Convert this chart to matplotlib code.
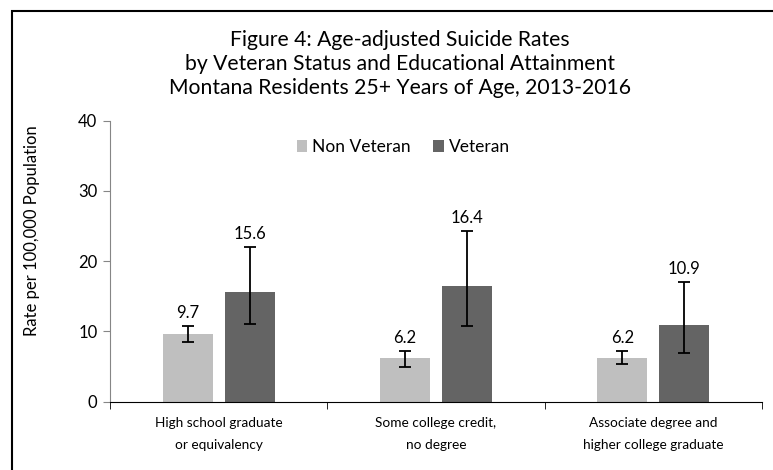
import matplotlib.pyplot as plt
import numpy as np
from matplotlib.patches import Rectangle

plt.rcParams['font.family'] = ['Lato', 'DejaVu Sans']

# Данные
categories = ["High school graduate\nor equivalency",
              "Some college credit,\nno degree",
              "Associate degree and\nhigher college graduate"]
non_veteran = [9.7, 6.2, 6.2]
non_veteran_lo = [8.5, 5.0, 5.3]
non_veteran_hi = [10.8, 7.2, 7.2]
veteran = [15.6, 16.4, 10.9]
veteran_lo = [11.1, 10.8, 6.9]
veteran_hi = [22.0, 24.3, 17.0]

c_light = '#BFBFBF'
c_dark = '#646464'

fig = plt.figure(figsize=(7.73, 4.70), dpi=100)

# Рамка вокруг графика (видны только верх и левый край), в пикселях
fig.add_artist(Rectangle((12, -20), 800, 470 - 11 + 20,
                         transform=None, fill=False, edgecolor='black',
                         linewidth=1.5, clip_on=False, zorder=10))

ax = fig.add_axes([0.1423, 0.1453, 0.8435, 0.5979])

x = np.arange(len(categories))
w = 0.23
off = 0.143

nv = np.array(non_veteran)
vt = np.array(veteran)
nv_err = [nv - np.array(non_veteran_lo), np.array(non_veteran_hi) - nv]
vt_err = [vt - np.array(veteran_lo), np.array(veteran_hi) - vt]

ax.bar(x - off, nv, w, color=c_light, label='Non Veteran', zorder=2)
ax.bar(x + off, vt, w, color=c_dark, label='Veteran', zorder=2)
ax.errorbar(x - off, nv, yerr=nv_err, fmt='none', ecolor='black',
            elinewidth=1.3, capsize=4, capthick=1.3, zorder=3)
ax.errorbar(x + off, vt, yerr=vt_err, fmt='none', ecolor='black',
            elinewidth=1.3, capsize=4, capthick=1.3, zorder=3)

# Подписи значений над планками погрешностей
for xi, v, hi in zip(x - off, non_veteran, non_veteran_hi):
    ax.text(xi, hi + 0.7, f"{v:.1f}", ha='center', va='bottom', fontsize=12)
for xi, v, hi in zip(x + off, veteran, veteran_hi):
    ax.text(xi, hi + 0.7, f"{v:.1f}", ha='center', va='bottom', fontsize=12)

ax.set_xlim(-0.5, len(categories) - 0.5)
ax.set_ylim(0, 40)
ax.set_yticks([0, 10, 20, 30, 40])
ax.tick_params(axis='y', length=5, color='#868686', labelsize=12, pad=4)

ax.set_xticks(x)
ax.set_xticklabels(categories, fontsize=9.8, linespacing=2.0)
ax.set_xticks(np.arange(len(categories) + 1) - 0.5, minor=True)
ax.tick_params(axis='x', which='major', length=0, pad=11)
ax.tick_params(axis='x', which='minor', length=5, color='black')

ax.spines['top'].set_visible(False)
ax.spines['right'].set_visible(False)
ax.spines['left'].set_color('#868686')
ax.spines['bottom'].set_color('black')

ax.set_ylabel("Rate per 100,000 Population", fontsize=12)
ax.yaxis.set_label_coords(-0.107, 0.61)

ax.legend(loc='center', bbox_to_anchor=(0.45, 0.906), ncol=2, frameon=False,
          fontsize=12.5, handlelength=0.6, handleheight=0.6, handletextpad=0.3,
          columnspacing=1.3)

fig.text(0.517, 1 - 64 / 470,
         "Figure 4: Age-adjusted Suicide Rates\n"
         "by Veteran Status and Educational Attainment\n"
         "Montana Residents 25+ Years of Age, 2013-2016",
         ha='center', va='center', fontsize=15.2, linespacing=1.25)

fig.savefig('out.png', dpi=100)
